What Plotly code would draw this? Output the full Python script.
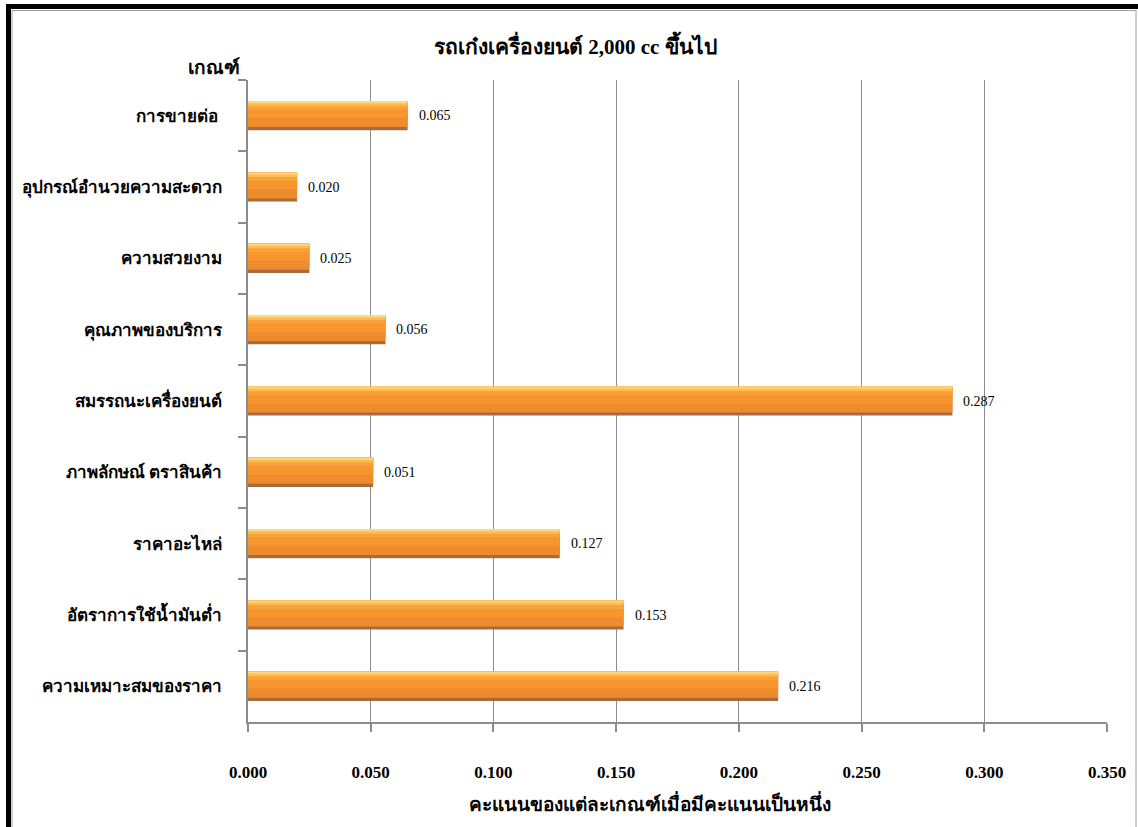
import plotly.graph_objects as go

categories = [
    "การขายต่อ ",
    "อุปกรณ์อำนวยความสะดวก",
    "ความสวยงาม",
    "คุณภาพของบริการ",
    "สมรรถนะเครื่องยนต์",
    "ภาพลักษณ์ ตราสินค้า",
    "ราคาอะไหล่",
    "อัตราการใช้น้ำมันต่ำ",
    "ความเหมาะสมของราคา",
]
weights = [0.065, 0.020, 0.025, 0.056, 0.287, 0.051, 0.127, 0.153, 0.216]
x_ticks = [0.0, 0.05, 0.10, 0.15, 0.20, 0.25, 0.30, 0.35]
x_tick_labels = ["0.000", "0.050", "0.100", "0.150", "0.200", "0.250", "0.300", "0.350"]
title_text = "รถเก๋งเครื่องยนต์ 2,000 cc ขึ้นไป"
y_title_text = "เกณฑ์"
x_title_text = "คะแนนของแต่ละเกณฑ์เมื่อมีคะแนนเป็นหนึ่ง"

W, H = 1138, 827
ML, MR, MT, MB = 248, 31, 80, 105
PW, PH = W - ML - MR, H - MT - MB

def px(xp):
    return (xp - ML) / PW

def py(yp):
    return (H - MB - yp) / PH

SERIF = "Liberation Serif, Times New Roman, Noto Sans, serif"

fig = go.Figure()

# layered bars to imitate the bevel/gradient look
layers = [
    (0.41, "#A86B3C"),
    (0.365, "#EE8B2C"),
    (0.24, "#F7952F"),
    (0.12, "#FAA23A"),
    (0.065, "#FDBD55"),
    (0.03, "#FFD87E"),
]
for w, c in layers:
    fig.add_trace(go.Bar(
        y=categories, x=weights, orientation="h",
        width=[w] * len(weights), offset=[-0.205] * len(weights),
        marker=dict(color=c, line=dict(width=0)),
        hoverinfo="skip", showlegend=False,
    ))

annotations = []
for cat, v in zip(categories, weights):
    annotations.append(dict(
        x=v, y=cat, xref="x", yref="y", text=f"{v:.3f}", showarrow=False,
        xanchor="left", xshift=9, font=dict(family=SERIF, size=14, color="#000000"),
    ))

annotations.append(dict(x=px(214), y=py(67), xref="paper", yref="paper", text=f"<b>{y_title_text}</b>",
                        showarrow=False, xanchor="center", yanchor="middle",
                        font=dict(family=SERIF, size=19, color="#000")))
annotations.append(dict(x=px(650), y=py(803), xref="paper", yref="paper", text=f"<b>{x_title_text}</b>",
                        showarrow=False, xanchor="center", yanchor="middle",
                        font=dict(family=SERIF, size=19, color="#000")))
annotations.append(dict(x=px(575), y=py(45), xref="paper", yref="paper", text=f"<b>{title_text}</b>",
                        showarrow=False, xanchor="center", yanchor="middle",
                        font=dict(family=SERIF, size=21, color="#000")))

shapes = [
    # black frame (left & top)
    dict(type="rect", xref="paper", yref="paper", x0=px(6), x1=px(11), y0=py(4), y1=py(H + 5),
         fillcolor="#000", line=dict(width=0), layer="above"),
    dict(type="rect", xref="paper", yref="paper", x0=px(6), x1=px(W + 5), y0=py(4), y1=py(9),
         fillcolor="#000", line=dict(width=0), layer="above"),
    # thin grey inner frame
    dict(type="line", xref="paper", yref="paper", x0=px(12), x1=px(12), y0=py(10), y1=py(H + 5),
         line=dict(color="#A0A0A0", width=1)),
    dict(type="line", xref="paper", yref="paper", x0=px(12), x1=px(1136), y0=py(10.5), y1=py(10.5),
         line=dict(color="#A0A0A0", width=1)),
    dict(type="line", xref="paper", yref="paper", x0=px(1136), x1=px(1136), y0=py(10), y1=py(H + 5),
         line=dict(color="#BDBDBD", width=1.5)),
]

fig.update_layout(
    width=W, height=H,
    margin=dict(l=ML, r=MR, t=MT, b=MB, pad=0),
    paper_bgcolor="#FFFFFF", plot_bgcolor="#FFFFFF",
    barmode="overlay",
    annotations=annotations, shapes=shapes,
    showlegend=False,
)
fig.update_xaxes(
    range=[0, 0.35], tickvals=x_ticks, ticktext=x_tick_labels,
    showgrid=True, gridcolor="#8C8C8C", gridwidth=1,
    showline=True, linecolor="#8C8C8C", linewidth=1.5,
    ticks="outside", ticklen=8, tickcolor="#8C8C8C", tickwidth=1.5,
    ticklabelstandoff=26, zeroline=False,
    tickfont=dict(family=SERIF, size=17, color="#000", weight="bold"),
)
fig.update_yaxes(
    autorange="reversed", type="category",
    showgrid=False, showline=True, linecolor="#8C8C8C", linewidth=1.5,
    ticks="outside", tickson="boundaries", ticklen=8, tickcolor="#8C8C8C", tickwidth=1.5,
    ticklabelstandoff=21,
    tickfont=dict(family=SERIF, size=17, color="#000", weight="bold"),
)

fig.write_html("out.html")
